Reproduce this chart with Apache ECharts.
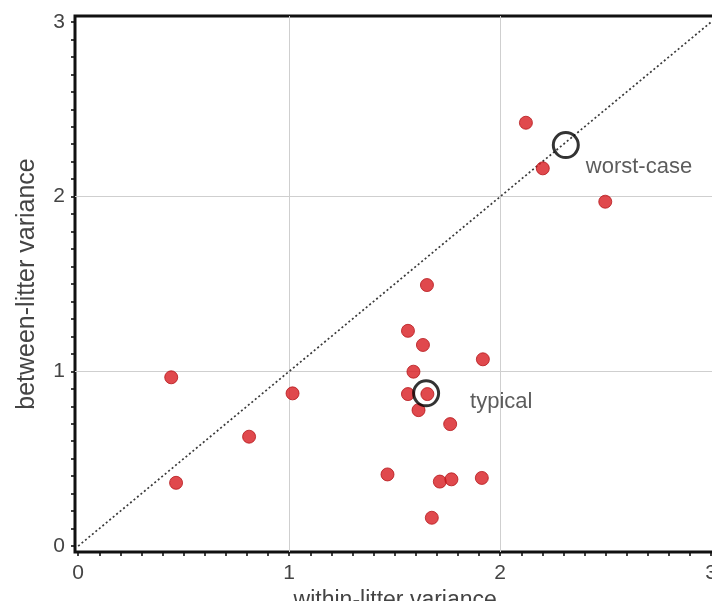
<!DOCTYPE html>
<html>
<head>
<meta charset="utf-8">
<title>Litter variance</title>
<script src="https://cdn.jsdelivr.net/npm/echarts@6/dist/echarts.min.js"></script>
<style>
  html, body { margin: 0; padding: 0; background: #fff; }
  #chart { width: 712px; height: 601px; }
</style>
</head>
<body>
<div id="chart"></div>
<script>
// Per-group variance estimates
const withinVar = [2.122, 2.202, 2.498, 1.653, 1.563, 1.634, 1.918, 1.589, 1.563, 1.655, 1.613,
                   1.763, 1.466, 1.714, 1.769, 1.913, 1.676, 0.441, 1.016, 0.810, 0.464];
const betweenVar = [2.423, 2.162, 1.971, 1.494, 1.232, 1.151, 1.069, 0.998, 0.870, 0.870, 0.778,
                    0.698, 0.410, 0.369, 0.382, 0.390, 0.162, 0.966, 0.874, 0.626, 0.362];

// Reference scenarios
const scenarioNames = ['typical', 'worst-case'];
const scenarioWithin = [1.649, 2.311];
const scenarioBetween = [0.874, 2.295];

// Identity line
const identityX = [0, 3];
const identityY = [0, 3];

// Labelled ticks, interior grid lines, and the 0.1 tick step
const axisTicks = [0, 1, 2, 3];
const gridValues = [1, 2];
const tickStep = 0.1;

const FONT = '"Liberation Sans", Arial, sans-serif';
const chart = echarts.init(document.getElementById('chart'), null, { renderer: 'canvas' });

const tickValues = [];
for (let k = 0; k <= Math.round(axisTicks[axisTicks.length - 1] / tickStep); k++) {
  tickValues.push(+(k * tickStep).toFixed(2));
}

const points = withinVar.map((x, i) => [x, betweenVar[i]]);
const scenarios = scenarioNames.map((n, i) => ({
  name: n,
  value: [scenarioWithin[i], scenarioBetween[i]],
  label: i === 0
    ? { distance: 30, offset: [0, 9] }
    : { distance: 6, offset: [0, 22] }
}));
const identity = identityX.map((x, i) => [x, identityY[i]]);

const gridLines = gridValues.map(v => ({ xAxis: v }))
  .concat(gridValues.map(v => ({ yAxis: v })));

function valueAxis(extra) {
  return Object.assign({
    type: 'value',
    // axes sit on the frame edges, just outside the 0..3 range
    axisLine: { show: false, onZero: false },
    axisTick: { show: true, inside: false, length: 4, customValues: tickValues,
                lineStyle: { color: '#111', width: 1.6 } },
    splitLine: { show: false },
    nameLocation: 'middle'
  }, extra);
}

chart.setOption({
  animation: false,
  backgroundColor: '#fff',
  grid: {
    left: 75, top: 16, width: 640.4, height: 536,
    show: true, borderColor: '#111', borderWidth: 3, backgroundColor: 'transparent',
    outerBoundsMode: 'none', containLabel: false
  },
  xAxis: valueAxis({
    min: -0.015, max: 3.02,
    name: 'within-litter variance',
    nameGap: 19,
    nameTextStyle: { fontFamily: FONT, fontSize: 23, color: '#444' },
    axisLabel: { fontFamily: FONT, fontSize: 21, color: '#444', customValues: axisTicks, margin: 11 }
  }),
  yAxis: valueAxis({
    min: -0.034, max: 3.034,
    name: 'between-litter variance',
    nameGap: 35,
    nameTextStyle: { fontFamily: FONT, fontSize: 25, color: '#444' },
    axisLabel: { fontFamily: FONT, fontSize: 21, color: '#444', customValues: axisTicks, margin: 10 }
  }),
  series: [
    {
      type: 'line',
      data: identity,
      symbol: 'none',
      silent: true,
      z: 2,
      lineStyle: { color: '#3a3a3a', width: 1.7, type: [2, 2.5] },
      markLine: {
        silent: true,
        symbol: 'none',
        label: { show: false },
        lineStyle: { color: '#cfcfcf', width: 1, type: 'solid' },
        z: 1,
        data: gridLines
      }
    },
    {
      type: 'scatter',
      data: points,
      symbol: 'circle',
      symbolSize: 13,
      z: 3,
      itemStyle: { color: '#d81c20', borderColor: '#b5161a', borderWidth: 1 }
    },
    {
      type: 'scatter',
      data: scenarios,
      symbol: 'circle',
      symbolSize: 25,
      z: 4,
      itemStyle: { color: 'rgba(0,0,0,0)', borderColor: '#000', borderWidth: 3 },
      label: {
        show: true,
        position: 'right',
        formatter: '{b}',
        fontFamily: FONT,
        fontSize: 22,
        color: '#333'
      }
    }
  ]
});
</script>
</body>
</html>
